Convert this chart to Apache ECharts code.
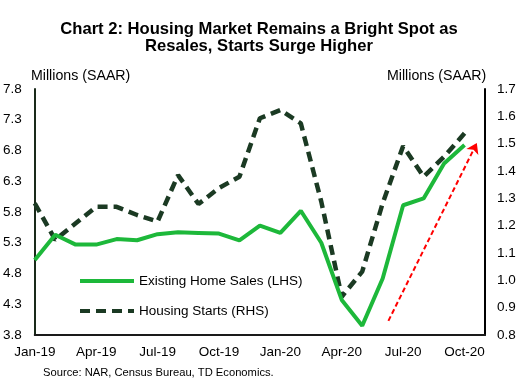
<!DOCTYPE html>
<html>
<head>
<meta charset="utf-8">
<script src="https://cdn.jsdelivr.net/npm/echarts@6/dist/echarts.min.js"></script>
<style>html,body{margin:0;padding:0;background:#fff;}#c{width:519px;height:385px;}</style>
</head>
<body>
<div id="c"></div>
<script>
var months = ['Jan-19','Feb-19','Mar-19','Apr-19','May-19','Jun-19','Jul-19','Aug-19','Sep-19','Oct-19','Nov-19','Dec-19',
              'Jan-20','Feb-20','Mar-20','Apr-20','May-20','Jun-20','Jul-20','Aug-20','Sep-20','Oct-20','Nov-20'];
var existingHomeSales = [5.02,5.43,5.27,5.27,5.36,5.34,5.44,5.47,5.46,5.45,5.34,5.58,
                         5.46,5.82,5.30,4.37,3.95,4.72,5.91,6.02,6.59,6.89];
var housingStarts = [1.282,1.148,1.209,1.269,1.269,1.239,1.215,1.385,1.279,1.338,1.379,1.593,
                     1.623,1.574,1.288,0.940,1.032,1.282,1.491,1.379,1.452,1.538];
var leftTicks = {min: 3.8, max: 7.8, step: 0.5};
var rightTicks = {min: 0.8, max: 1.7, step: 0.1};
var arrowFrom = [17.28, 4.03];
var arrowTo = [21.6, 6.92];

var FONT = 'Arial, "Liberation Sans", sans-serif';
var chart = echarts.init(document.getElementById('c'));
chart.setOption({
  animation: false,
  backgroundColor: '#fff',
  textStyle: {fontFamily: FONT},
  title: [
    {text: 'Chart 2: Housing Market Remains a Bright Spot as\nResales, Starts Surge Higher', left: 259, top: 20.5, textAlign: 'center', padding: 0,
     textStyle: {fontFamily: FONT, fontSize: 16.6, fontWeight: 'bold', color: '#000', lineHeight: 17}},
    {text: 'Source: NAR, Census Bureau, TD Economics.', left: 43, top: 367, padding: 0,
     textStyle: {fontFamily: FONT, fontSize: 11.2, fontWeight: 'normal', color: '#000'}},
    {text: 'Millions (SAAR)', left: 31, top: 69, padding: 0,
     textStyle: {fontFamily: FONT, fontSize: 14.2, fontWeight: 'normal', color: '#000'}},
    {text: 'Millions (SAAR)', left: 387, top: 69, padding: 0,
     textStyle: {fontFamily: FONT, fontSize: 14.2, fontWeight: 'normal', color: '#000'}}
  ],
  legend: {
    orient: 'vertical', left: 78, top: 274, padding: 0, itemWidth: 54, itemHeight: 14, itemGap: 16,
    lineStyle: {width: 4}, itemStyle: {opacity: 0},
    data: ['Existing Home Sales (LHS)', 'Housing Starts (RHS)'],
    textStyle: {fontFamily: FONT, fontSize: 13.5, color: '#000'}
  },
  grid: {left: 34, right: 34, top: 89, bottom: 50},
  xAxis: [
    {type: 'category', data: months, boundaryGap: false,
     axisLine: {lineStyle: {color: '#1a1a1a', width: 2}}, axisTick: {show: false},
     axisLabel: {interval: 2, color: '#000', fontSize: 13.5, fontFamily: FONT, margin: 10}},
    {type: 'value', min: 0, max: months.length - 1, show: false}
  ],
  yAxis: [
    {type: 'value', min: leftTicks.min, max: leftTicks.max, interval: leftTicks.step,
     axisLine: {show: true, lineStyle: {color: '#1a2a1a', width: 2}}, axisTick: {show: false}, splitLine: {show: false},
     axisLabel: {color: '#000', fontSize: 13.5, fontFamily: FONT, margin: 13, formatter: function(v){return v.toFixed(1);}}},
    {type: 'value', min: rightTicks.min, max: rightTicks.max, interval: rightTicks.step, position: 'right',
     axisLine: {show: true, lineStyle: {color: '#000', width: 2}}, axisTick: {show: false}, splitLine: {show: false},
     axisLabel: {color: '#000', fontSize: 13.5, fontFamily: FONT, margin: 12, formatter: function(v){return v.toFixed(1);}}}
  ],
  series: [
    {name: 'Housing Starts (RHS)', type: 'line', yAxisIndex: 1, data: housingStarts, symbol: 'none',
     lineStyle: {color: '#1b3a23', width: 4.5, type: [10, 6]}, itemStyle: {color: '#1b3a23'}, z: 2},
    {name: 'Existing Home Sales (LHS)', type: 'line', yAxisIndex: 0, data: existingHomeSales, symbol: 'none',
     lineStyle: {color: '#1db83a', width: 4}, itemStyle: {color: '#1db83a'}, z: 3},
    {name: 'arrow', type: 'line', xAxisIndex: 1, yAxisIndex: 0, data: [], symbol: 'none',
     markLine: {silent: true, symbol: ['none', 'arrow'], symbolSize: 10, label: {show: false},
       lineStyle: {color: '#ff0000', width: 2, type: [5, 3]},
       data: [[{coord: arrowFrom}, {coord: arrowTo}]]}}
  ]
});
</script>
</body>
</html>
